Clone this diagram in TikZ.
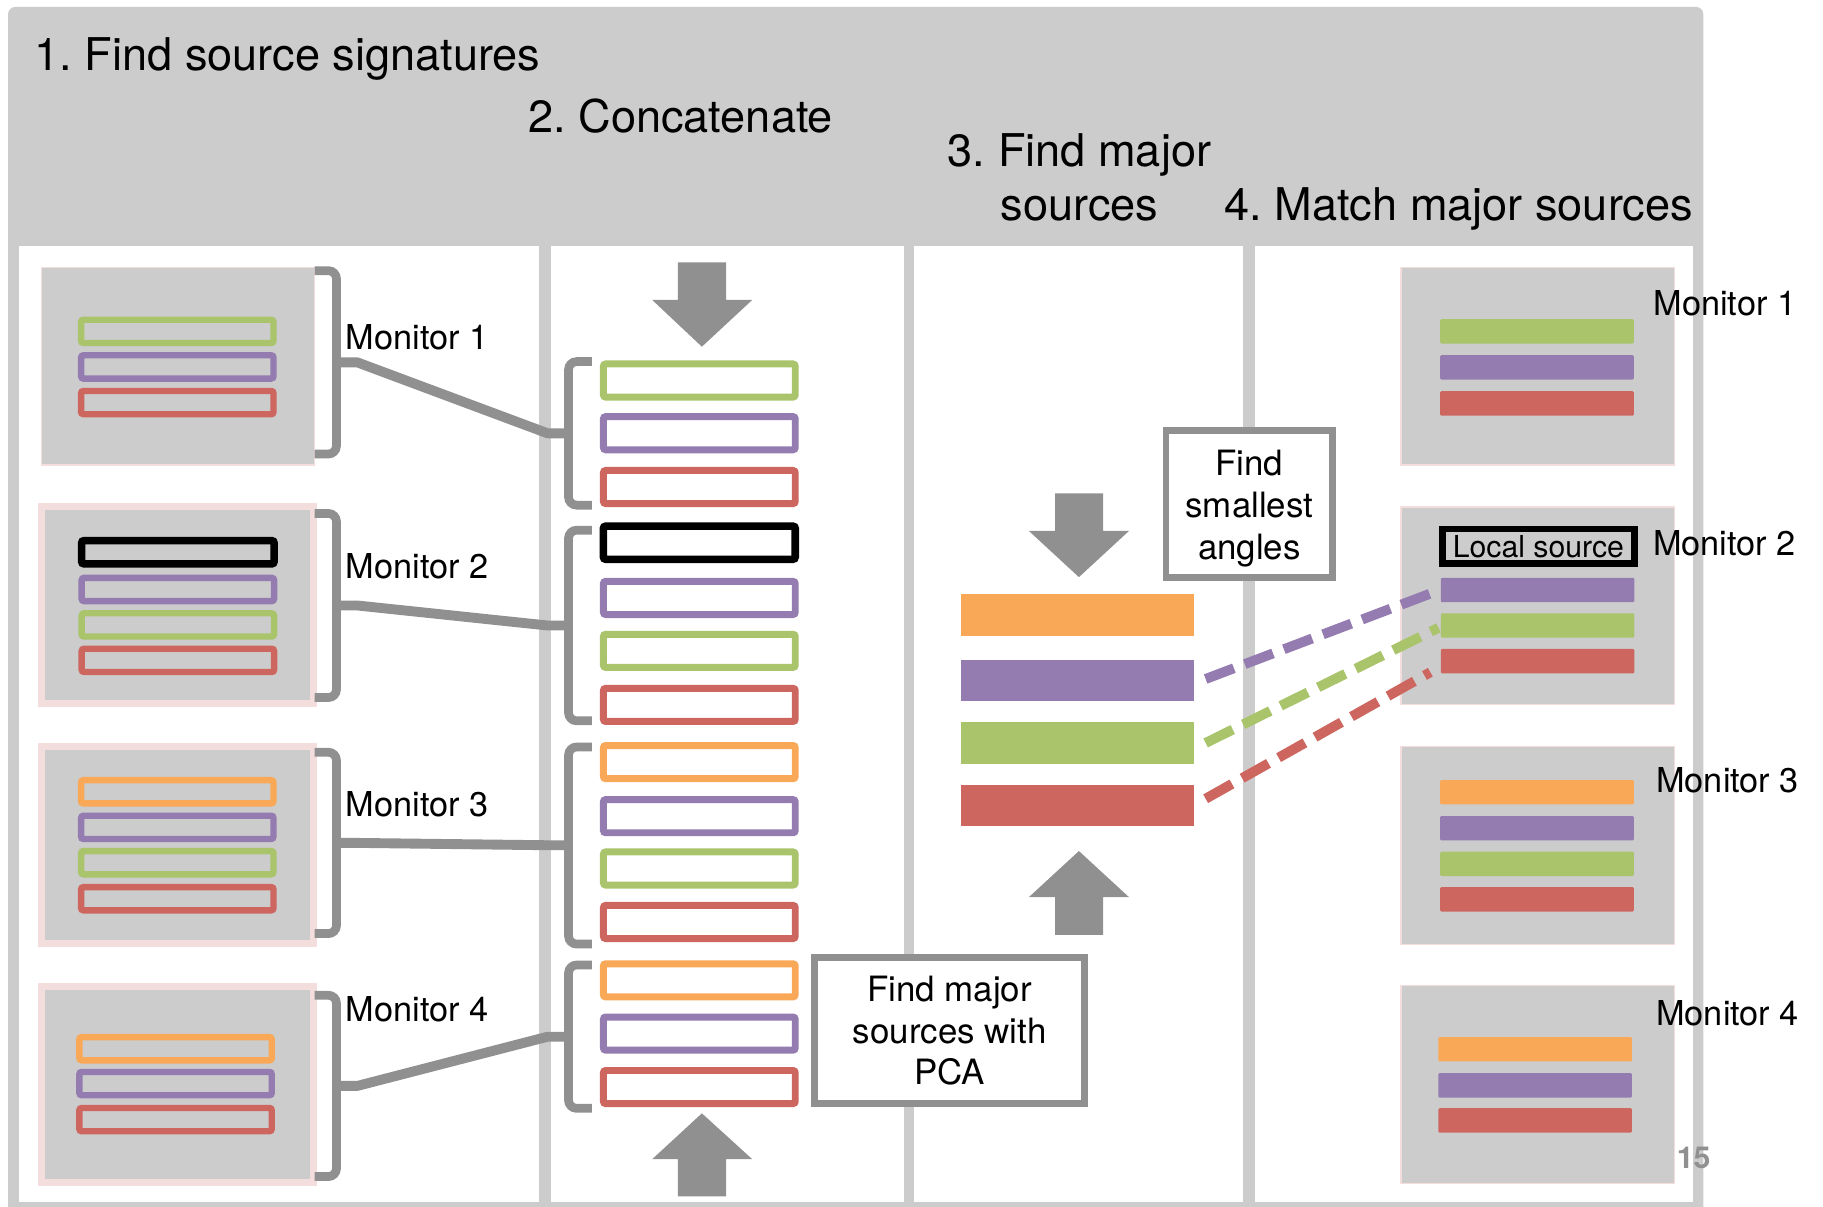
\documentclass[tikz,border=0pt]{standalone}
\usepackage{fontspec}
\setmainfont{TeX Gyre Heros}
\frenchspacing
\definecolor{framegray}{RGB}{204,204,204}
\definecolor{boxgray}{RGB}{204,204,204}
\definecolor{dgray}{RGB}{144,144,144}
\definecolor{sgreen}{RGB}{170,196,108}
\definecolor{spurple}{RGB}{148,123,176}
\definecolor{sred}{RGB}{205,102,95}
\definecolor{sorange}{RGB}{249,168,87}
\definecolor{pinkedge}{RGB}{244,222,221}
\newcommand\hdfont{\fontsize{38.8}{46.5}\selectfont}
\newcommand\lblfont{\fontsize{29.5}{36}\selectfont}
\newcommand\boxfont{\fontsize{30}{36}\selectfont}
\newcommand\locfont{\fontsize{26}{30}\selectfont}
\begin{document}
\begin{tikzpicture}[x=1pt,y=-1pt,
  mon/.style={rectangle, fill=boxgray, draw=pinkedge, line width=1.2pt, inner sep=0pt, outer sep=0pt,
    minimum width=235pt, minimum height=170pt},
  monthick/.style={mon, line width=6pt, minimum width=234pt, minimum height=169pt},
  obar/.style={rectangle, fill=boxgray, line width=5.5pt, rounded corners=2pt, inner sep=0pt, outer sep=0pt,
    minimum width=165.5pt, minimum height=20pt},
  cbar/.style={rectangle, fill=white, line width=6pt, rounded corners=2pt, inner sep=0pt, outer sep=0pt,
    minimum width=165pt, minimum height=28.5pt},
  sbar/.style={rectangle, inner sep=0pt, outer sep=0pt, minimum width=200.4pt, minimum height=35.5pt},
  rbar/.style={rectangle, inner sep=0pt, outer sep=0pt, rounded corners=1pt, minimum width=166.5pt, minimum height=21pt},
  brk/.style={draw=dgray, line width=7.5pt, rounded corners=7pt},
  conn/.style={draw=dgray, line width=8.5pt, line join=round},
  ebox/.style={rectangle, draw=dgray, fill=white, line width=6pt, align=center, font=\boxfont, inner sep=0pt},
  matchline/.style={line width=8.5pt, dash pattern=on 26pt off 10pt},
  lbl/.style={anchor=base west, inner sep=0pt, font=\lblfont},
  hd/.style={inner sep=0pt, font=\hdfont}]
\useasboundingbox (0,0) rectangle (1568,1038);
\fill[white] (0,0) rectangle (1568,1038);

% frame and the four panels
\fill[framegray, rounded corners=6pt] (7,6) rectangle (1465,1060);
\fill[white] (16,212) rectangle (464,1033.5);
\fill[white] (474,212) rectangle (777.5,1033.5);
\fill[white] (786.5,212) rectangle (1069.5,1033.5);
\fill[white] (1079.5,212) rectangle (1456,1033.5);

% step titles
\node[hd, anchor=base west] (h1) at (29.6,61) {1. Find source signatures};
\node[hd, anchor=base west] (h2) at (454.3,114) {2. Concatenate};
\node[hd, anchor=base] (h3a) at (928.5,143.5) {3. Find major};
\node[hd, anchor=base] (h3b) at (928.5,190) {sources};
\node[hd, anchor=base west] (h4) at (1053,190) {4. Match major sources};

% step 1: monitors with their source signatures
\node[mon] (m1) at (153,315) {};
\node[monthick] (m2) at (153,520.5) {};
\node[monthick] (m3) at (153,726.8) {};
\node[monthick] (m4) at (153,932.8) {};
\foreach \n/\y/\c in {a/285/sgreen, b/315.6/spurple, c/346.3/sred}
  \node[obar, draw=\c] (m1\n) at (152.5,\y) {};
\node[obar, draw=black, line width=6.5pt] (m2a) at (153,475) {};
\foreach \n/\y/\c in {b/507/spurple, c/537.5/sgreen, d/568/sred}
  \node[obar, draw=\c] (m2\n) at (153,\y) {};
\foreach \n/\y/\c in {a/681/sorange, b/711.6/spurple, c/742/sgreen, d/773/sred}
  \node[obar, draw=\c] (m3\n) at (152.5,\y) {};
\foreach \n/\y/\c in {a/902/sorange, b/932/spurple, c/963/sred}
  \node[obar, draw=\c] (m4\n) at (151,\y) {};

\node[lbl] (ml1) at (297.3,300.2) {Monitor 1};
\node[lbl] (ml2) at (297.3,498) {Monitor 2};
\node[lbl] (ml3) at (297.3,702.2) {Monitor 3};
\node[lbl] (ml4) at (297.3,878.8) {Monitor 4};

% brackets round each monitor
\draw[brk] (270.6,232.8) -- (289.4,232.8) -- (289.4,390.5) -- (270.6,390.5);
\draw[brk] (270.6,441.6) -- (289.4,441.6) -- (289.4,600) -- (270.6,600);
\draw[brk] (270.6,647) -- (289.4,647) -- (289.4,803) -- (270.6,803);
\draw[brk] (270.6,856) -- (289.4,856) -- (289.4,1012) -- (270.6,1012);
\coordinate (lm1) at (289.4,311.7);
\coordinate (lm2) at (289.4,520.8);
\coordinate (lm3) at (289.4,725);
\coordinate (lm4) at (289.4,934);

% step 2: concatenated signatures
\foreach \i/\y/\c in {1/327.3/sgreen, 2/372.6/spurple, 3/418.9/sred, 5/514.3/spurple,
    6/559.8/sgreen, 7/606.3/sred, 8/655.5/sorange, 9/702/spurple, 10/747/sgreen,
    11/793/sred, 12/843.2/sorange, 13/889/spurple, 14/935/sred}
  \node[cbar, draw=\c] (c\i) at (601.5,\y) {};
\node[cbar, draw=black, line width=6.5pt] (c4) at (601.5,466.8) {};

\draw[brk] (509,311) -- (489,311) -- (489,434.5) -- (509,434.5);
\draw[brk] (509,456) -- (489,456) -- (489,620) -- (509,620);
\draw[brk] (509,642.5) -- (489,642.5) -- (489,812) -- (509,812);
\draw[brk] (509,830) -- (489,830) -- (489,953.3) -- (509,953.3);
\coordinate (cb1) at (489,372.7);
\coordinate (cb2) at (489,538);
\coordinate (cb3) at (489,727);
\coordinate (cb4) at (489,891.7);

% monitor brackets joined to the concatenated groups
\draw[conn] (lm1) -- ++(18,0) -- ([xshift=-18pt]cb1) -- (cb1);
\draw[conn] (lm2) -- ++(18,0) -- ([xshift=-18pt]cb2) -- (cb2);
\draw[conn] (lm3) -- ++(18,0) -- ([xshift=-18pt]cb3) -- (cb3);
\draw[conn] (lm4) -- ++(18,0) -- ([xshift=-18pt]cb4) -- (cb4);

% block arrows
\fill[dgray] (583,225.6) -- (624.5,225.6) -- (624.5,258) -- (647,258) -- (603.7,298.2) -- (561,258) -- (583,258) -- cycle;
\fill[dgray] (583,1029) -- (624.5,1029) -- (624.5,997) -- (647,997) -- (603.7,957.6) -- (561,997) -- (583,997) -- cycle;
\fill[dgray] (907.5,424.3) -- (948.7,424.3) -- (948.7,456.7) -- (971,456.7) -- (928,496.4) -- (885,456.7) -- (907.5,456.7) -- cycle;
\fill[dgray] (907.5,804) -- (948.7,804) -- (948.7,771.6) -- (971,771.6) -- (928,732) -- (885,771.6) -- (907.5,771.6) -- cycle;

% step 3: major sources
\node[sbar, fill=sorange] (s1) at (926.8,529) {};
\node[sbar, fill=spurple] (s2) at (926.8,585.4) {};
\node[sbar, fill=sgreen] (s3) at (926.8,639) {};
\node[sbar, fill=sred] (s4) at (926.8,693) {};

\node[ebox, minimum width=232.4pt, minimum height=125.8pt] (pca) at (816.8,886.5) {Find major\\sources with\\PCA};
\node[ebox, line width=5.5pt, minimum width=143.2pt, minimum height=126.5pt] (ang) at (1074.6,433.4)
  {\rule{0pt}{29.5pt}Find\\smallest\\angles};

% step 4: matched sources per monitor
\node[mon] (r1) at (1322.5,315) {};
\node[mon] (r2) at (1322.5,521) {};
\node[mon] (r3) at (1322.5,727.2) {};
\node[mon] (r4) at (1322.5,932.8) {};
\foreach \n/\y/\c in {g/285/sgreen, p/316/spurple, r/347/sred}
  \node[rbar, fill=\c] (r1\n) at (1322,\y) {};
\node[rectangle, draw=black, fill=boxgray, line width=6pt, inner sep=0pt, minimum width=165pt,
  minimum height=30pt, font=\locfont] (ls) at (1323.2,470) {Local source};
\foreach \n/\y/\c in {p/507.5/spurple, g/538/sgreen, r/568.7/sred}
  \node[rbar, fill=\c] (r2\n) at (1322.5,\y) {};
\foreach \n/\y/\c in {o/681.4/sorange, p/712.4/spurple, g/743/sgreen, r/773.5/sred}
  \node[rbar, fill=\c] (r3\n) at (1322,\y) {};
\foreach \n/\y/\c in {o/902.5/sorange, p/933.5/spurple, r/963.7/sred}
  \node[rbar, fill=\c] (r4\n) at (1320.4,\y) {};

\node[lbl] (rl1) at (1422,271) {Monitor 1};
\node[lbl] (rl2) at (1421.6,477.6) {Monitor 2};
\node[lbl] (rl3) at (1424.4,682) {Monitor 3};
\node[lbl] (rl4) at (1424.4,882) {Monitor 4};

% smallest-angle matches
\draw[matchline, spurple] ([xshift=10pt,yshift=1.4pt]s2.east) -- ([xshift=-1pt]r2p.west);
\draw[matchline, sgreen] ([xshift=10pt]s3.east) -- ([xshift=-2pt,yshift=-2pt]r2g.west);
\draw[matchline, sred] ([xshift=10pt,yshift=6pt]s4.east) -- ([xshift=-9pt,yshift=1pt]r2r.south west);

% page number
\node[anchor=base west, inner sep=0pt, font=\fontsize{26}{30}\selectfont\bfseries, text=dgray] (pg) at (1442,1005) {15};
\end{tikzpicture}
\end{document}
